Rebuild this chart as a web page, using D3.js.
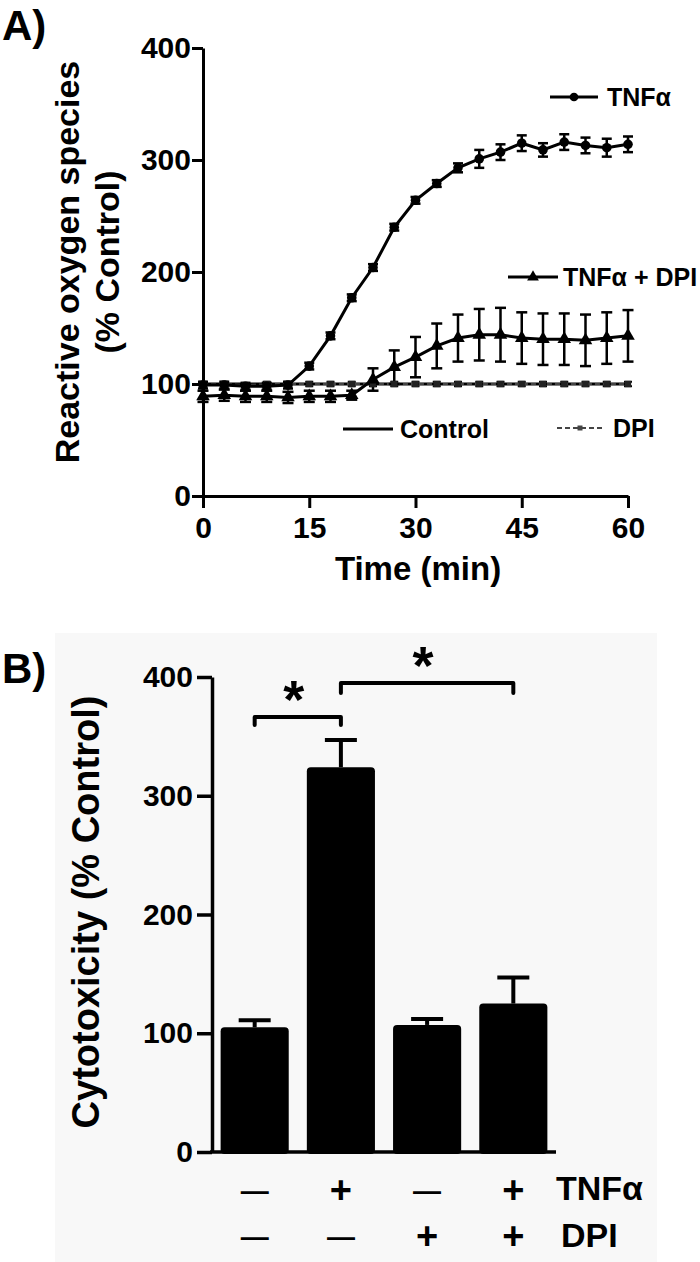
<!DOCTYPE html>
<html><head><meta charset="utf-8">
<script src="https://cdn.jsdelivr.net/npm/d3@7"></script>
<style>
body{margin:0;background:#fff}
svg{display:block}
text{font-family:"Liberation Sans",Arial,Helvetica,sans-serif;font-weight:bold;fill:#000}
</style>
</head><body>
<svg id="c" width="700" height="1262"></svg>
<script>
// ---------- Panel A data ----------
const times      = [0,3,6,9,12,15,18,21,24,27,30,33,36,39,42,45,48,51,54,57,60];
const tnf        = [99,99,98,98,99,116,143,177,204,240,264,279,293,301,307,315,309,316,313,311,314];
const tnfErr     = [3,3,3,3,3,3,3,3,3,3,3,3,4,8,7,7,6,7,7,8,7];
const tnfDpi     = [89,90,89,89,88,89,89,90,104,115,124,134,141,144,144,141,140,140,139,141,143];
const tnfDpiErr  = [5,5,5,5,5,5,5,4,10,15,18,20,21,23,24,23,23,23,23,23,23];
const control    = [100,100,100,100,100,100,100,100,100,100,100,100,100,100,100,100,100,100,100,100,100];
const dpi        = [100,100,99,100,100,100,100,100,100,100,100,100,100,100,100,100,100,100,100,100,100];
const dpiErr     = [2,2,2,2,2,2,2,2,2,2,2,2,2,2,2,2,2,2,2,2,2];
const yTicksA    = [0,100,200,300,400];
const xTicksA    = [0,15,30,45,60];

// ---------- Panel B data ----------
const barCats    = ["ctrl","tnf","dpi","tnfdpi"];
const barVals    = [105,324,107,125];
const barErr     = [6,23,5,22];
const tnfRow     = ["\u2014","+","\u2014","+"];
const dpiRow     = ["\u2014","\u2014","+","+"];
const yTicksB    = [0,100,200,300,400];

const svg = d3.select("#c");

// ================= PANEL A =================
const xA = d3.scaleLinear().domain([0,60]).range([203,628]);
const yA = d3.scaleLinear().domain([0,400]).range([496,48]);

svg.append("text").attr("x",2).attr("y",40).attr("font-size",42).text("A)");

const gyA = svg.append("g").attr("transform","translate(203,0)")
  .call(d3.axisLeft(yA).tickValues(yTicksA).tickSize(11).tickSizeOuter(0).tickPadding(1));
const gxA = svg.append("g").attr("transform","translate(0,496)")
  .call(d3.axisBottom(xA).tickValues(xTicksA).tickSize(12).tickSizeOuter(0).tickPadding(9));
[gyA,gxA].forEach(g=>{
  g.select(".domain").attr("stroke","#000").attr("stroke-width",3);
  g.selectAll(".tick line").attr("stroke","#000").attr("stroke-width",3);
  g.selectAll(".tick text").attr("font-size",30).attr("font-family",null).style("font-weight","bold").attr("fill","#000");
});

const ytA = svg.append("text").attr("transform","translate(79,262) rotate(-90)")
  .attr("text-anchor","middle").attr("font-size",34);
ytA.append("tspan").attr("x",0).attr("y",0).text("Reactive oxygen species");
ytA.append("tspan").attr("x",0).attr("y",40).text("(% Control)");

svg.append("text").attr("x",418).attr("y",580).attr("text-anchor","middle").attr("font-size",33).text("Time (min)");

const lineGen = arr => d3.line().x((d,i)=>xA(times[i])).y(d=>yA(d))(arr);

// Control line
svg.append("path").attr("d",lineGen(control)).attr("fill","none").attr("stroke","#000").attr("stroke-width",3);
// DPI dashed
svg.append("path").attr("d",lineGen(dpi)).attr("fill","none").attr("stroke","#444").attr("stroke-width",2).attr("stroke-dasharray","5,3");

function errBars(vals, errs, cap, sw){
  const g = svg.append("g").attr("stroke","#000").attr("stroke-width",sw);
  vals.forEach((v,i)=>{
    const x = xA(times[i]), y1 = yA(v+errs[i]), y2 = yA(v-errs[i]);
    g.append("line").attr("x1",x).attr("x2",x).attr("y1",y1).attr("y2",y2);
    g.append("line").attr("x1",x-cap).attr("x2",x+cap).attr("y1",y1).attr("y2",y1);
    g.append("line").attr("x1",x-cap).attr("x2",x+cap).attr("y1",y2).attr("y2",y2);
  });
}
errBars(dpi,dpiErr,4,2);
errBars(tnfDpi,tnfDpiErr,5.5,2.5);
errBars(tnf,tnfErr,5,2.5);

svg.append("path").attr("d",lineGen(tnfDpi)).attr("fill","none").attr("stroke","#000").attr("stroke-width",3);
svg.append("path").attr("d",lineGen(tnf)).attr("fill","none").attr("stroke","#000").attr("stroke-width",3);

// markers
svg.append("g").selectAll("path").data(dpi).join("path")
  .attr("transform",(d,i)=>`translate(${xA(times[i])},${yA(d)})`)
  .attr("d",d3.symbol(d3.symbolSquare,40)()).attr("fill","#222");
svg.append("g").selectAll("path").data(tnfDpi).join("path")
  .attr("transform",(d,i)=>`translate(${xA(times[i])},${yA(d)})`)
  .attr("d",d3.symbol(d3.symbolTriangle,80)()).attr("fill","#000");
svg.append("g").selectAll("circle").data(tnf).join("circle")
  .attr("cx",(d,i)=>xA(times[i])).attr("cy",d=>yA(d)).attr("r",4.8).attr("fill","#000");

// legends
function legend(x1,x2,y,tx,label,fs,opts){
  svg.append("line").attr("x1",x1).attr("x2",x2).attr("y1",y).attr("y2",y)
    .attr("stroke",opts.color||"#000").attr("stroke-width",opts.sw||3)
    .attr("stroke-dasharray",opts.dash||null);
  if(opts.sym){
    svg.append("path").attr("transform",`translate(${(x1+x2)/2},${y})`)
      .attr("d",d3.symbol(opts.sym,opts.size)()).attr("fill",opts.color||"#000");
  }
  svg.append("text").attr("x",tx).attr("y",y+9).attr("font-size",fs).text(label);
}
legend(550,598,97,607,"TNF\u03b1",25,{sym:d3.symbolCircle,size:60});
legend(508,558,277,563,"TNF\u03b1 + DPI",25,{sym:d3.symbolTriangle,size:60});
legend(343,393,429,400,"Control",25,{});
legend(557,603,428,613,"DPI",25,{dash:"5,3",sw:2,color:"#444",sym:d3.symbolSquare,size:25});

// ================= PANEL B =================
svg.append("rect").attr("x",55).attr("y",633).attr("width",602).attr("height",629).attr("fill","#f8f8f8");
svg.append("text").attr("x",2).attr("y",683).attr("font-size",42).text("B)");

const xB = d3.scaleBand().domain(barCats).range([212,556]).paddingInner(0.21).paddingOuter(0.1);
const yB = d3.scaleLinear().domain([0,400]).range([1152,677]);

// error bars (up only)
const eg = svg.append("g").attr("stroke","#000").attr("stroke-width",4);
barCats.forEach((c,i)=>{
  const cx = xB(c)+xB.bandwidth()/2;
  const yt = yB(barVals[i]+barErr[i]);
  eg.append("line").attr("x1",cx).attr("x2",cx).attr("y1",yB(barVals[i])).attr("y2",yt);
  eg.append("line").attr("x1",cx-16).attr("x2",cx+16).attr("y1",yt).attr("y2",yt);
});
svg.append("g").selectAll("rect").data(barVals).join("rect")
  .attr("x",(d,i)=>xB(barCats[i])).attr("width",xB.bandwidth())
  .attr("y",d=>yB(d)).attr("height",d=>yB(0)-yB(d)+2)
  .attr("rx",4).attr("fill","#000");

const gyB = svg.append("g").attr("transform","translate(212,0)")
  .call(d3.axisLeft(yB).tickValues(yTicksB).tickSize(15).tickSizeOuter(0).tickPadding(4));
gyB.select(".domain").attr("stroke","#000").attr("stroke-width",3.5);
gyB.selectAll(".tick line").attr("stroke","#000").attr("stroke-width",3.5);
gyB.selectAll(".tick text").attr("font-size",30).attr("font-family",null).style("font-weight","bold").attr("fill","#000");
svg.append("line").attr("x1",210).attr("x2",556).attr("y1",1152).attr("y2",1152).attr("stroke","#000").attr("stroke-width",3.5);

svg.append("text").attr("transform","translate(99,912) rotate(-90)").attr("text-anchor","middle")
  .attr("font-size",38).text("Cytotoxicity (% Control)");

// significance brackets
function bracket(c1,c2,yLine,yLeg,starY){
  const x1 = xB(c1)+xB.bandwidth()/2, x2 = xB(c2)+xB.bandwidth()/2;
  svg.append("path").attr("d",`M${x1},${yLeg}L${x1},${yLine}L${x2},${yLine}L${x2},${yLeg}`)
    .attr("fill","none").attr("stroke","#000").attr("stroke-width",4).attr("stroke-linecap","round").attr("stroke-linejoin","round");
  svg.append("text").attr("x",(x1+x2)/2 - 4).attr("y",starY).attr("text-anchor","middle").attr("font-size",54).text("*");
}
bracket("ctrl","tnf",717,725,718);
bracket("tnf","tnfdpi",683,693,684);

// condition rows
svg.append("g").selectAll("text").data(tnfRow).join("text")
  .attr("x",(d,i)=>xB(barCats[i])+xB.bandwidth()/2).attr("y",d=>d==="+"?1203:1200)
  .attr("text-anchor","middle").attr("font-size",d=>d==="+"?38:28).text(d=>d);
svg.append("g").selectAll("text").data(dpiRow).join("text")
  .attr("x",(d,i)=>xB(barCats[i])+xB.bandwidth()/2).attr("y",d=>d==="+"?1249:1246)
  .attr("text-anchor","middle").attr("font-size",d=>d==="+"?38:28).text(d=>d);
svg.append("text").attr("x",556).attr("y",1200).attr("font-size",34).text("TNF\u03b1");
svg.append("text").attr("x",561).attr("y",1247).attr("font-size",34).text("DPI");
</script>
</body></html>
